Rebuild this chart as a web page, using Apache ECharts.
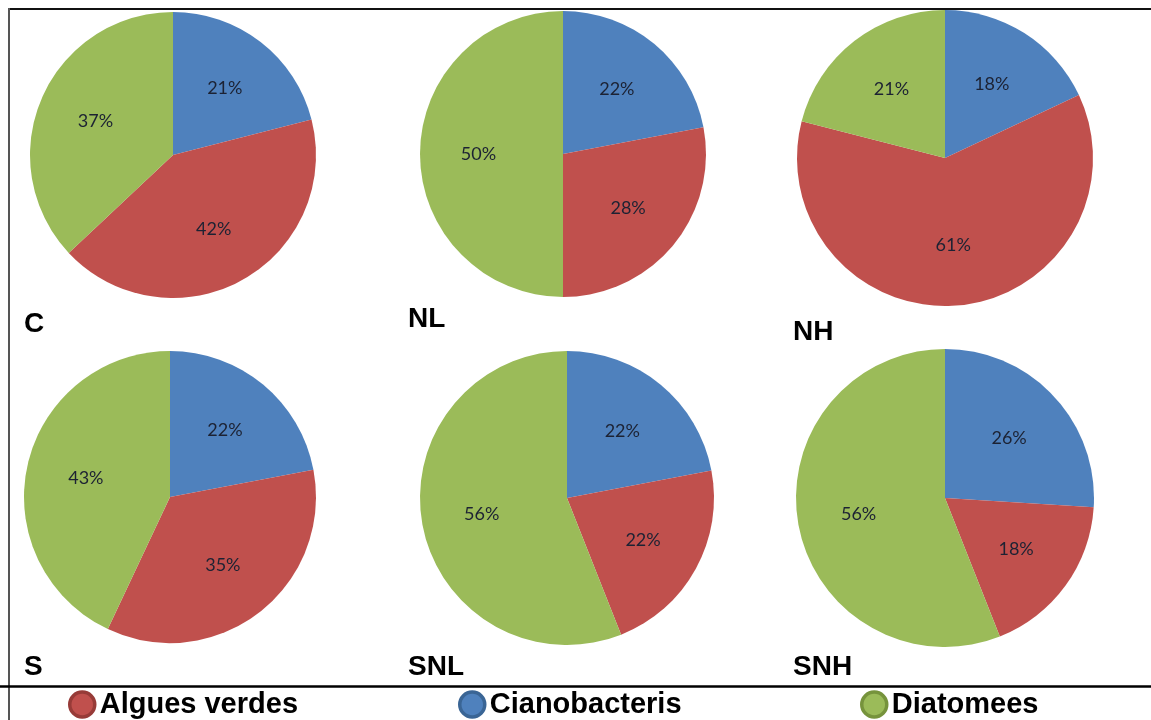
<!DOCTYPE html>
<html>
<head>
<meta charset="utf-8">
<script src="https://cdn.jsdelivr.net/npm/echarts@6/dist/echarts.min.js"></script>
<style>
  html, body { margin: 0; padding: 0; background: #ffffff; }
  #chart { width: 1151px; height: 720px; }
</style>
</head>
<body>
<div id="chart"></div>
<script>
// Sampling sites, one pie each
const panels = ['C', 'NL', 'NH', 'S', 'SNL', 'SNH'];
// Share of each algal group (%) per site
const cianobacteris = [21, 22, 18, 22, 22, 26];
const alguesVerdes = [42, 28, 61, 35, 22, 18];
const diatomees = [37, 50, 21, 43, 56, 56];

const groupNames = ['Cianobacteris', 'Algues verdes', 'Diatomees'];
const groupColors = ['#4F81BD', '#C0504D', '#9BBB59'];
const groupBorders = ['#3A6595', '#973B38', '#76933C'];

// Pie layout per panel: centre and outer radius in pixels
const layout = [
  { center: [173, 155], r: 143, title: [24, 324] },
  { center: [563, 154], r: 143, title: [408, 319] },
  { center: [945, 158], r: 148, title: [793, 332] },
  { center: [170, 497], r: 146, title: [24, 667] },
  { center: [567, 498], r: 147, title: [408, 667] },
  { center: [945, 498], r: 149, title: [793, 667] }
];

const series = [];
panels.forEach((p, i) => {
  const values = [cianobacteris[i], alguesVerdes[i], diatomees[i]];
  const data = values.map((v, k) => ({
    name: groupNames[k],
    value: v,
    itemStyle: { color: groupColors[k] }
  }));
  // Coloured slices
  series.push({
    type: 'pie',
    name: p,
    center: layout[i].center,
    radius: [0, layout[i].r],
    startAngle: 90,
    clockwise: true,
    silent: true,
    animation: false,
    label: { show: false },
    labelLine: { show: false },
    data: data
  });
  // Transparent ring that places the percentage labels a little past mid-radius
  series.push({
    type: 'pie',
    name: p + ' labels',
    center: layout[i].center,
    radius: [0, layout[i].r * 1.14],
    startAngle: 90,
    clockwise: true,
    silent: true,
    animation: false,
    z: 3,
    itemStyle: { color: 'rgba(0,0,0,0)' },
    label: {
      show: true,
      position: 'inside',
      formatter: '{c}%',
      fontFamily: 'Lato',
      fontSize: 18,
      color: '#1c2233'
    },
    labelLine: { show: false },
    data: values.map((v, k) => ({ name: groupNames[k], value: v }))
  });
});

// Legend entries in drawing order, each placed on its own
const legendOrder = [1, 0, 2];
const legendLeft = [68, 458, 860];
const legends = legendOrder.map((k, j) => ({
  left: legendLeft[j],
  top: 690,
  padding: 0,
  itemWidth: 25,
  itemHeight: 25,
  icon: 'circle',
  selectedMode: false,
  textStyle: {
    fontFamily: 'Liberation Sans',
    fontWeight: 'bold',
    fontSize: 29,
    color: '#000000'
  },
  data: [{
    name: groupNames[k],
    itemStyle: { color: groupColors[k], borderColor: groupBorders[k], borderWidth: 3.5 }
  }]
}));

const graphics = [
  // frame lines
  { type: 'line', shape: { x1: 8, y1: 9, x2: 1151, y2: 9 }, style: { stroke: '#111', lineWidth: 2 } },
  { type: 'line', shape: { x1: 9, y1: 8, x2: 9, y2: 720 }, style: { stroke: '#555', lineWidth: 2 } },
  { type: 'line', shape: { x1: 0, y1: 686.5, x2: 1151, y2: 686.5 }, style: { stroke: '#000', lineWidth: 2.5 } }
];
panels.forEach((p, i) => {
  graphics.push({
    type: 'text',
    x: layout[i].title[0],
    y: layout[i].title[1],
    style: {
      text: p,
      fontFamily: 'Liberation Sans',
      fontWeight: 'bold',
      fontSize: 28,
      fill: '#000',
      verticalAlign: 'middle'
    }
  });
});

const chart = echarts.init(document.getElementById('chart'), null, { renderer: 'canvas' });
chart.setOption({
  backgroundColor: '#ffffff',
  animation: false,
  legend: legends,
  series: series,
  graphic: graphics
});
</script>
</body>
</html>
